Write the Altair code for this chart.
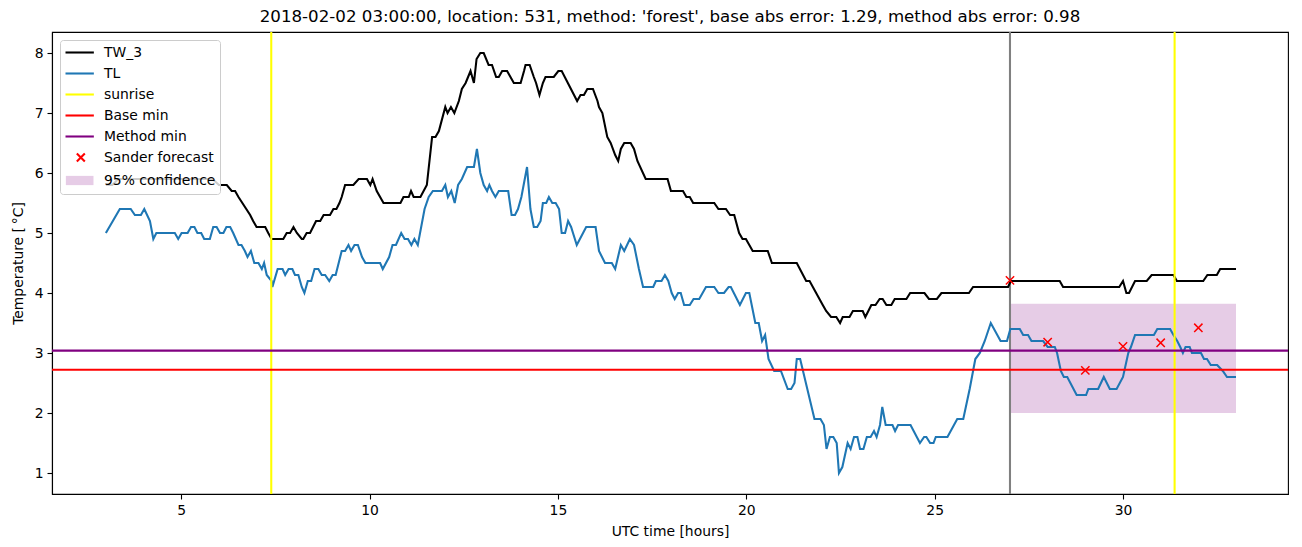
import altair as alt
import pandas as pd

# ---------------- data ----------------
tw_hours = [3.0, 3.17, 3.33, 5.83, 6.0, 6.21, 6.34, 6.43, 6.52, 6.83, 6.91, 7.0, 7.23, 7.31, 7.4, 7.71, 7.8, 7.89,
            7.98, 8.07, 8.2, 8.24, 8.33, 8.42, 8.5, 8.58, 8.69, 8.78, 8.95, 9.04, 9.12, 9.2, 9.26, 9.35, 9.57, 9.71,
            9.93, 10.02, 10.08, 10.19, 10.37, 10.82, 10.9, 11.04, 11.1, 11.17, 11.35, 11.52, 11.66, 11.75, 11.84,
            12.01, 12.07, 12.16, 12.25, 12.37, 12.45, 12.55, 12.68, 12.77, 12.84, 12.94, 13.03, 13.16, 13.25, 13.36,
            13.43, 13.52, 13.65, 13.83, 14.01, 14.1, 14.14, 14.25, 14.36, 14.42, 14.51, 14.6, 14.67, 14.89, 15.01,
            15.1, 15.51, 15.6, 15.69, 15.78, 15.93, 16.05, 16.09, 16.18, 16.31, 16.4, 16.52, 16.6, 16.67, 16.76,
            16.93, 17.02, 17.11, 17.33, 17.91, 18.0, 18.32, 18.41, 18.5, 18.59, 19.15, 19.26, 19.46, 19.57, 19.68,
            19.81, 19.9, 19.99, 20.17, 20.57, 20.68, 21.34, 21.59, 21.68, 22.03, 22.12, 22.25, 22.39, 22.49, 22.56,
            22.74, 22.83, 23.09, 23.16, 23.32, 23.43, 23.54, 23.62, 23.72, 23.85, 23.94, 24.25, 24.35, 24.73, 24.85,
            25.06, 25.18, 25.91, 26.02, 26.95, 27.02, 28.32, 28.41, 29.9, 30.0, 30.09, 30.16, 30.32, 30.63, 30.76,
            31.34, 31.43, 32.13, 32.24, 32.49, 32.58, 33.0]
tw_values = [5.8, 5.8, 5.9, 5.9, 5.8, 5.8, 5.7, 5.7, 5.6, 5.3, 5.2, 5.1, 5.1, 5.0, 4.9, 4.9, 5.0, 5.0,
             5.1, 5.0, 4.9, 4.9, 5.0, 5.0, 5.1, 5.2, 5.2, 5.3, 5.3, 5.4, 5.4, 5.5, 5.6, 5.8, 5.8, 5.9,
             5.9, 5.8, 5.9, 5.7, 5.5, 5.5, 5.6, 5.6, 5.7, 5.6, 5.6, 5.8, 6.6, 6.6, 6.7,
             7.1, 7.0, 7.1, 7.0, 7.2, 7.4, 7.5, 7.7, 7.5, 7.9, 8.0, 8.0, 7.8, 7.8, 7.6,
             7.6, 7.7, 7.7, 7.5, 7.5, 7.7, 7.8, 7.8, 7.6, 7.5, 7.3, 7.5, 7.6, 7.6, 7.7,
             7.7, 7.2, 7.3, 7.3, 7.4, 7.4, 7.2, 7.1, 7.0, 6.6, 6.5, 6.3, 6.2, 6.4, 6.5,
             6.5, 6.4, 6.2, 5.9, 5.9, 5.7, 5.7, 5.6, 5.6, 5.5, 5.5, 5.4, 5.4, 5.3, 5.3,
             5.0, 4.9, 4.9, 4.7, 4.7, 4.5, 4.5, 4.2, 4.2, 3.8, 3.7, 3.6, 3.6, 3.5, 3.6,
             3.6, 3.7, 3.7, 3.6, 3.8, 3.8, 3.9, 3.9, 3.8, 3.8, 3.9, 3.9, 4.0, 4.0, 3.9,
             3.9, 4.0, 4.0, 4.1, 4.1, 4.2, 4.2, 4.1, 4.1, 4.2, 4.0, 4.0, 4.2, 4.2, 4.3,
             4.3, 4.2, 4.2, 4.3, 4.3, 4.4, 4.4]

tl_hours = [3.0, 3.37, 3.66, 3.77, 3.93, 4.02, 4.17, 4.26, 4.34, 4.83, 4.92, 5.01, 5.17, 5.26, 5.35, 5.43, 5.53,
            5.61, 5.76, 5.85, 5.94, 6.03, 6.12, 6.2, 6.3, 6.38, 6.52, 6.6, 6.69, 6.76, 6.85, 6.94, 7.05, 7.14, 7.2,
            7.27, 7.4, 7.42, 7.56, 7.69, 7.76, 7.85, 7.95, 8.02, 8.11, 8.2, 8.27, 8.36, 8.45, 8.54, 8.64, 8.73,
            8.82, 8.93, 9.02, 9.1, 9.26, 9.35, 9.44, 9.51, 9.6, 9.69, 9.8, 9.89, 10.28, 10.35, 10.52, 10.61, 10.7,
            10.84, 10.93, 11.02, 11.11, 11.19, 11.28, 11.46, 11.57, 11.68, 11.92, 12.01, 12.08, 12.17, 12.26, 12.35,
            12.45, 12.59, 12.77, 12.85, 12.94, 13.03, 13.12, 13.18, 13.25, 13.34, 13.43, 13.68, 13.77, 13.86, 13.94,
            14.03, 14.18, 14.27, 14.36, 14.45, 14.54, 14.6, 14.69, 14.76, 14.85, 14.94, 15.03, 15.1, 15.19, 15.27,
            15.35, 15.4, 15.5, 15.75, 16.0, 16.09, 16.25, 16.43, 16.52, 16.67, 16.76, 16.91, 17.02, 17.15, 17.26,
            17.53, 17.6, 17.75, 17.84, 17.93, 18.02, 18.1, 18.19, 18.26, 18.35, 18.5, 18.6, 18.75, 18.93, 19.15,
            19.26, 19.41, 19.53, 19.59, 19.83, 19.99, 20.08, 20.24, 20.33, 20.42, 20.5, 20.59, 20.74, 20.92, 21.1,
            21.19, 21.28, 21.34, 21.43, 21.81, 21.97, 22.06, 22.13, 22.22, 22.31, 22.4, 22.46, 22.55, 22.69, 22.77,
            22.86, 22.95, 23.02, 23.11, 23.2, 23.3, 23.39, 23.46, 23.55, 23.61, 23.7, 23.88, 23.95, 24.03, 24.36,
            24.61, 24.72, 24.78, 24.88, 24.97, 25.03, 25.34, 25.6, 25.76, 25.93, 26.08, 26.2, 26.33, 26.49, 26.75,
            26.92, 27.01, 27.26, 27.35, 27.48, 27.57, 27.88, 28.0, 28.19, 28.25, 28.35, 28.43, 28.52, 28.77, 29.02,
            29.08, 29.34, 29.49, 29.65, 29.83, 30.0, 30.14, 30.21, 30.32, 30.82, 30.91, 31.25, 31.34, 31.44, 31.52,
            31.59, 31.66, 31.77, 31.83, 32.07, 32.15, 32.23, 32.33, 32.5, 32.65, 32.76, 33.0]
tl_values = [5.0, 5.4, 5.4, 5.3, 5.3, 5.4, 5.2, 4.9, 5.0, 5.0, 4.9, 5.0, 5.0, 5.1, 5.1, 5.0, 5.0,
             4.9, 4.9, 5.1, 5.1, 5.0, 5.0, 5.1, 5.1, 5.0, 4.8, 4.8, 4.7, 4.6, 4.7, 4.5, 4.5, 4.4, 4.5,
             4.3, 4.2, 4.1, 4.4, 4.4, 4.3, 4.4, 4.4, 4.3, 4.3, 4.1, 4.0, 4.2, 4.2, 4.4, 4.4, 4.3,
             4.3, 4.2, 4.3, 4.3, 4.7, 4.7, 4.8, 4.7, 4.8, 4.8, 4.6, 4.5, 4.5, 4.4, 4.6, 4.8, 4.8,
             5.0, 4.9, 4.9, 4.8, 4.9, 4.8, 5.4, 5.6, 5.7, 5.7, 5.8, 5.6, 5.7, 5.5, 5.8,
             5.9, 6.1, 6.1, 6.4, 6.0, 5.8, 5.7, 5.8, 5.7, 5.6, 5.7, 5.7, 5.3, 5.3, 5.4,
             5.6, 6.1, 5.4, 5.1, 5.1, 5.2, 5.5, 5.5, 5.6, 5.5, 5.5, 5.4, 5.0, 5.0, 5.2,
             5.1, 5.0, 4.8, 5.1, 5.1, 4.7, 4.5, 4.5, 4.4, 4.8, 4.7, 4.9, 4.8, 4.4, 4.1,
             4.1, 4.2, 4.2, 4.3, 4.2, 4.0, 3.9, 4.0, 4.0, 3.8, 3.8, 3.9, 3.9, 4.1, 4.1,
             4.0, 4.0, 4.1, 4.1, 3.8, 4.0, 4.0, 3.5, 3.5, 3.2, 3.3, 2.9, 2.7, 2.7, 2.4,
             2.4, 2.5, 2.9, 2.9, 1.9, 1.9, 1.8, 1.4, 1.6, 1.6, 1.5, 1.0, 1.1, 1.5, 1.4,
             1.6, 1.6, 1.4, 1.4, 1.6, 1.6, 1.7, 1.6, 1.8, 2.1, 1.8, 1.8, 1.7, 1.8, 1.8,
             1.5, 1.6, 1.6, 1.5, 1.5, 1.6, 1.6, 1.9, 1.9, 2.4, 2.9, 3.0, 3.2, 3.5, 3.2,
             3.2, 3.4, 3.4, 3.3, 3.3, 3.2, 3.2, 3.1, 3.1, 3.0, 2.7, 2.6, 2.6, 2.3, 2.3,
             2.4, 2.4, 2.6, 2.4, 2.4, 2.6, 3.0, 3.1, 3.3, 3.3, 3.4, 3.4, 3.3, 3.2, 3.1,
             3.0, 3.1, 3.1, 3.0, 3.0, 2.9, 2.9, 2.8, 2.8, 2.7, 2.6, 2.6]

sunrise_hours = [7.39, 31.37]
forecast_start = [27.0]
base_min = [2.72]
method_min = [3.04]
forecast_hours = [27, 28, 29, 30, 31, 32]
forecast_values = [4.21, 3.18, 2.71, 3.11, 3.17, 3.42]
conf_start = [27.0]
conf_end = [33.0]
conf_low = [2.0]
conf_high = [3.82]

legend_names = ["TW_3", "TL", "sunrise", "Base min", "Method min", "Sander forecast", "95% confidence"]
x_ticks = [5, 10, 15, 20, 25, 30]
y_ticks = [1, 2, 3, 4, 5, 6, 7, 8]
title_text = "2018-02-02 03:00:00, location: 531, method: 'forest', base abs error: 1.29, method abs error: 0.98"

# ---------------- styling ----------------
FONT = "DejaVu Sans"
LW = 2.08
BLUE = "#1f77b4"
XPATH = "M-1,-1L1,1M1,-1L-1,1"
# legend symbol paths (unit = half of sqrt(symbolSize) = 7 px)
LEG_LINE = "M-1,0L3.05,0"
LEG_X = "M0.62,-0.57L1.76,0.57M1.76,-0.57L0.62,0.57"
LEG_RECT = "M-0.95,-0.66L3.0,-0.66L3.0,0.66L-0.95,0.66Z"

xs = alt.Scale(domain=[1.57, 34.38], nice=False, zero=False)
ys = alt.Scale(domain=[0.65, 8.35], nice=False, zero=False)
xax = alt.Axis(values=x_ticks, title="UTC time [hours]", format="d", titlePadding=8)
yax = alt.Axis(values=y_ticks, title="Temperature [\u2009°C]", format="d", titlePadding=9)


def X(field):
    return alt.X(field, type="quantitative", scale=xs, axis=xax)


def Y(field):
    return alt.Y(field, type="quantitative", scale=ys, axis=yax)


tw_df = pd.DataFrame({"h": tw_hours, "v": tw_values})
tl_df = pd.DataFrame({"h": tl_hours, "v": tl_values})
sun_df = pd.DataFrame({"h": sunrise_hours})
now_df = pd.DataFrame({"h": forecast_start})
base_df = pd.DataFrame({"v": base_min})
meth_df = pd.DataFrame({"v": method_min})
fc_df = pd.DataFrame({"h": forecast_hours, "v": forecast_values})
conf_df = pd.DataFrame({"h0": conf_start, "h1": conf_end, "v0": conf_low, "v1": conf_high})
leg_df = pd.DataFrame({"name": legend_names, "h": [-10.0] * 7, "v": [5.0] * 7})

conf = alt.Chart(conf_df).mark_rect(color="purple", opacity=0.2).encode(
    x=X("h0"), x2="h1", y=Y("v0"), y2="v1")
now = alt.Chart(now_df).mark_rule(color="gray", strokeWidth=LW).encode(x=X("h"))
tw = alt.Chart(tw_df).mark_line(color="black", strokeWidth=LW).encode(x=X("h"), y=Y("v"))
tl = alt.Chart(tl_df).mark_line(color=BLUE, strokeWidth=LW).encode(x=X("h"), y=Y("v"))
sun = alt.Chart(sun_df).mark_rule(color="yellow", strokeWidth=LW).encode(x=X("h"))
base = alt.Chart(base_df).mark_rule(color="red", strokeWidth=LW).encode(y=Y("v"))
meth = alt.Chart(meth_df).mark_rule(color="purple", strokeWidth=LW).encode(y=Y("v"))
fc = alt.Chart(fc_df).mark_point(shape=XPATH, size=69, color="red", filled=False,
                                 strokeWidth=1.5, opacity=1).encode(x=X("h"), y=Y("v"))

leg_common = dict(title=None, orient="none", legendX=8, legendY=8)
stroke_range = ["black", BLUE, "yellow", "red", "purple", "red", "transparent"]
fill_range = ["transparent"] * 6 + ["#e6cce6"]
shape_range = [LEG_LINE] * 5 + [LEG_X, LEG_RECT]
legend_layer = alt.Chart(leg_df).mark_point(clip=True, filled=True, opacity=1).encode(
    x=X("h"), y=Y("v"),
    stroke=alt.Stroke("name:N", scale=alt.Scale(domain=legend_names, range=stroke_range),
                      legend=alt.Legend(**leg_common)),
    fill=alt.Fill("name:N", scale=alt.Scale(domain=legend_names, range=fill_range),
                  legend=alt.Legend(**leg_common)),
    shape=alt.Shape("name:N", scale=alt.Scale(domain=legend_names, range=shape_range),
                    legend=alt.Legend(**leg_common)),
)

chart = alt.layer(conf, now, tw, tl, sun, base, meth, fc, legend_layer).properties(
    width=1236, height=462,
    title=alt.TitleParams(title_text, font=FONT, fontSize=16.67, fontWeight="normal", color="black",
                          anchor="middle", offset=5),
    autosize=alt.AutoSizeParams(type="none"),
    padding={"left": 52, "top": 32, "right": 14, "bottom": 53},
).configure(font=FONT).configure_view(
    stroke="black", strokeWidth=1.1
).configure_axis(
    grid=False, domainColor="black", domainWidth=1.1, tickColor="black", tickWidth=1.1, tickSize=5,
    labelFont=FONT, labelFontSize=13.9, labelColor="black", labelPadding=4,
    titleFont=FONT, titleFontSize=13.9, titleFontWeight="normal", titleColor="black",
).configure_legend(
    labelFont=FONT, labelFontSize=13.9, labelColor="black", labelOffset=23,
    symbolSize=196, symbolStrokeWidth=2.08, rowPadding=5,
    fillColor="rgba(255,255,255,0.8)", strokeColor="#cccccc", cornerRadius=3, padding=4,
)

chart.save("out.html", embed_options={"renderer": "svg", "actions": False})
